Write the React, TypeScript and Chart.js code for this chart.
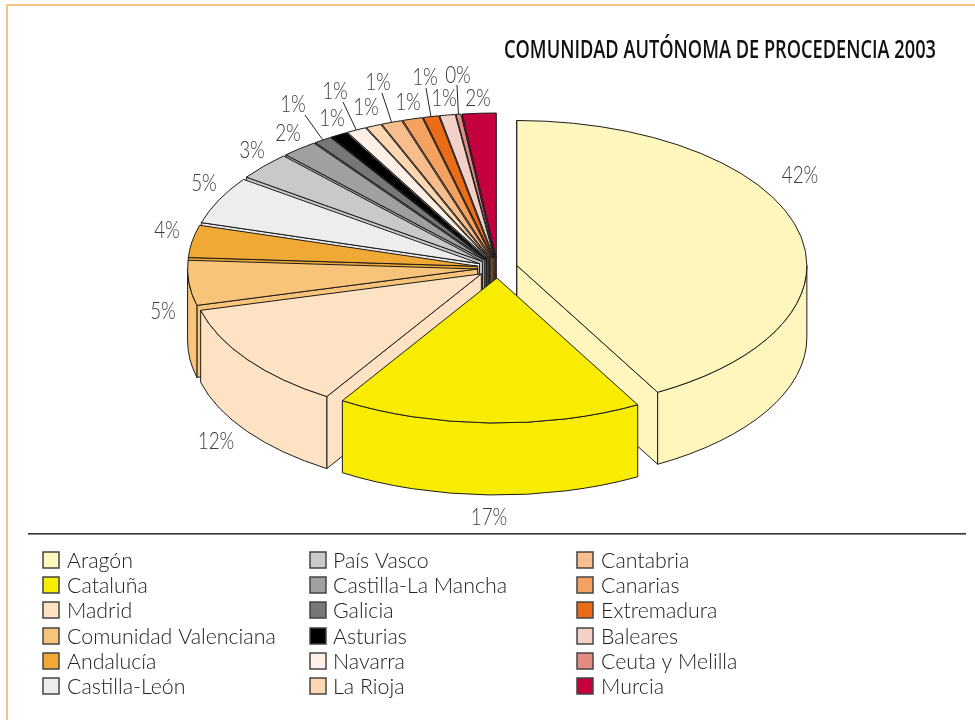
import React, { useEffect, useRef } from "react";
import { Chart, registerables } from "chart.js";

Chart.register(...registerables);

const TITLE = "COMUNIDAD AUTÓNOMA DE PROCEDENCIA 2003";

const categories = [
  "Aragón", "Cataluña", "Madrid", "Comunidad Valenciana", "Andalucía", "Castilla-León",
  "País Vasco", "Castilla-La Mancha", "Galicia", "Asturias", "Navarra", "La Rioja",
  "Cantabria", "Canarias", "Extremadura", "Baleares", "Ceuta y Melilla", "Murcia",
];

const shares = [
  41.9, 17, 12, 5.0, 3.6, 5.3,
  3.1, 2.0, 1.0, 0.95, 1.1, 0.85,
  1.15, 1.1, 0.86, 0.86, 0.28, 1.87,
];

const colors = [
  "#FFF6BD", "#F8EC00", "#FDE3C3", "#F8C47A", "#F1A935", "#EDEDED",
  "#C9C9C9", "#A0A0A0", "#777777", "#000000", "#FEF0E6", "#FCD7B1",
  "#F8BD8C", "#F4A261", "#EA6C16", "#F3D0C8", "#E28B82", "#C4003F",
];

// layout of the percentage texts (centre of the text), in page pixels
const labelCenters: [number, number][] = [
  [800, 176], [489, 518], [216, 442], [163, 312], [167, 231], [204, 184],
  [252, 151], [288, 134], [293, 105], [332, 119], [335, 92], [366, 108],
  [378, 83], [408, 103], [425, 78], [444, 99], [458, 76], [478, 99],
];

// where a leader line leaves its label (null: no leader)
const leaderStarts: ([number, number] | null)[] = [
  null, null, null, null, null, null,
  null, null, [305, 115], null, [343, 102], null,
  [382, 93], null, [426, 88], null, [457, 85], null,
];

const TILT = 0.5;
const DEPTH = 72;
const PLANE_CY = 360;
const PAGE_CY = 268;
const EXPLODE = 20;

const legendColumns = [
  { boxX: 43, textX: 67 },
  { boxX: 310, textX: 333 },
  { boxX: 577, textX: 601 },
];
const legendRowY = [560, 585, 610, 636, 661, 686];
const TEXT_FONT = "Lato";

const project = (y: number) => PAGE_CY + (y - PLANE_CY) * TILT;

const squeezed = (ctx: CanvasRenderingContext2D, text: string, x: number, y: number, k: number) => {
  ctx.fillText(text, x, y, ctx.measureText(text).width * k);
};

const pie3d = {
  id: "pie3d",
  beforeDatasetsDraw(chart: any) {
    const ctx = chart.ctx as CanvasRenderingContext2D;
    const arcs: any[] = chart.getDatasetMeta(0).data;
    const values: number[] = chart.data.datasets[0].data;
    const total = values.reduce((a, b) => a + b, 0);

    const slices = arcs.map((el, i) => {
      const mid = (el.startAngle + el.endAngle) / 2;
      const off = el.options.offset || 0;
      return {
        i,
        mid,
        a1: el.startAngle,
        a2: el.endAngle,
        r: el.outerRadius,
        cx: el.x + Math.cos(mid) * off,
        cy: project(el.y + Math.sin(mid) * off),
        fill: el.options.backgroundColor,
        line: el.options.borderColor,
      };
    });

    ctx.save();
    ctx.lineJoin = "round";
    ctx.lineWidth = 1;
    const order = [...slices].sort((p, q) => Math.sin(p.mid) - Math.sin(q.mid));
    for (const s of order) {
      ctx.fillStyle = s.fill;
      ctx.strokeStyle = s.line;
      const radial = (a: number) => {
        const x = s.cx + Math.cos(a) * s.r;
        const y = s.cy + Math.sin(a) * s.r * TILT;
        ctx.beginPath();
        ctx.moveTo(s.cx, s.cy);
        ctx.lineTo(x, y);
        ctx.lineTo(x, y + DEPTH);
        ctx.lineTo(s.cx, s.cy + DEPTH);
        ctx.closePath();
        ctx.fill();
        ctx.stroke();
      };
      if (Math.cos(s.a1) <= 0.001) radial(s.a1);
      if (Math.cos(s.a2) > 0.001) radial(s.a2);
      // outer wall: only the part turned to the viewer
      const wStart = Math.max(s.a1, 0);
      const wEnd = Math.min(s.a2, Math.PI);
      if (wEnd > wStart) {
        ctx.beginPath();
        ctx.ellipse(s.cx, s.cy, s.r, s.r * TILT, 0, wStart, wEnd);
        ctx.ellipse(s.cx, s.cy + DEPTH, s.r, s.r * TILT, 0, wEnd, wStart, true);
        ctx.closePath();
        ctx.fill();
        ctx.stroke();
      }
      // top face
      ctx.beginPath();
      ctx.moveTo(s.cx, s.cy);
      ctx.ellipse(s.cx, s.cy, s.r, s.r * TILT, 0, s.a1, s.a2);
      ctx.closePath();
      ctx.fill();
      ctx.stroke();
    }

    // leader lines and percentage labels
    ctx.strokeStyle = "#222";
    ctx.lineWidth = 1;
    slices.forEach((s) => {
      const from = leaderStarts[s.i];
      if (from) {
        ctx.beginPath();
        ctx.moveTo(from[0], from[1]);
        ctx.lineTo(s.cx + Math.cos(s.mid) * s.r, s.cy + Math.sin(s.mid) * s.r * TILT);
        ctx.stroke();
      }
    });
    ctx.fillStyle = "#3c3c3c";
    ctx.font = `300 23px ${TEXT_FONT}`;
    ctx.textAlign = "center";
    ctx.textBaseline = "middle";
    values.forEach((v, i) => {
      const [x, y] = labelCenters[i];
      squeezed(ctx, `${Math.round((v / total) * 100)}%`, x, y, 0.82);
    });
    ctx.restore();
    return false;
  },
  afterDraw(chart: any) {
    const ctx = chart.ctx as CanvasRenderingContext2D;
    ctx.save();
    // frame
    ctx.fillStyle = "#F6C57F";
    ctx.fillRect(6, 4, 969, 2);
    ctx.fillRect(6, 4, 2, 716);
    // separator
    ctx.fillStyle = "#333";
    ctx.fillRect(28, 533, 938, 1.6);
    // title
    ctx.fillStyle = "#111";
    ctx.font = "600 25px 'Open Sans'";
    ctx.textAlign = "left";
    ctx.textBaseline = "alphabetic";
    ctx.fillText(TITLE, 504, 58, 432);
    // legend
    const labels: string[] = chart.data.labels;
    const bg: string[] = chart.data.datasets[0].backgroundColor;
    ctx.font = `300 22px ${TEXT_FONT}`;
    ctx.textBaseline = "middle";
    labels.forEach((label, i) => {
      const col = legendColumns[Math.floor(i / legendRowY.length)];
      const y = legendRowY[i % legendRowY.length];
      ctx.fillStyle = bg[i];
      ctx.fillRect(col.boxX, y - 8, 16, 16);
      ctx.strokeStyle = "#444";
      ctx.lineWidth = 1.5;
      ctx.strokeRect(col.boxX, y - 8, 16, 16);
      ctx.fillStyle = "#222";
      squeezed(ctx, label, col.textX, y + 1, 0.97);
    });
    ctx.restore();
  },
};

export default function App() {
  const ref = useRef<HTMLCanvasElement>(null);
  useEffect(() => {
    const chart = new Chart(ref.current as HTMLCanvasElement, {
      type: "pie",
      data: {
        labels: categories,
        datasets: [
          {
            data: shares,
            backgroundColor: colors,
            borderColor: "#1c1c1c",
            borderWidth: 1,
            hoverOffset: 0,
            offset: EXPLODE,
          },
        ],
      },
      options: {
        responsive: false,
        animation: false,
        layout: { padding: { left: 197, right: 177, top: 59.5, bottom: 59.5 } },
        plugins: { legend: { display: false }, title: { display: false }, tooltip: { enabled: false } },
        events: [],
      },
      plugins: [pie3d],
    } as any);
    return () => chart.destroy();
  }, []);
  return (
    <div style={{ position: "absolute", left: 0, top: 0, width: 975, height: 720, background: "#fff" }}>
      <canvas ref={ref} width={975} height={720} style={{ display: "block" }} />
    </div>
  );
}
